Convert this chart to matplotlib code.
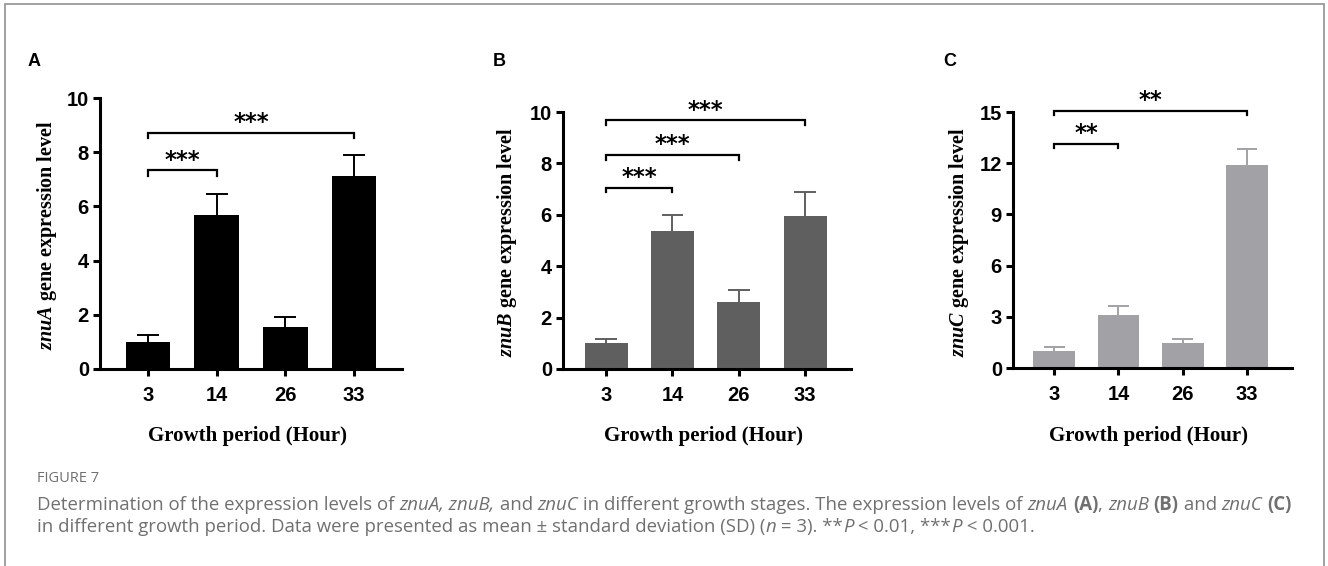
import numpy as np
import matplotlib
matplotlib.use("Agg")
import matplotlib.pyplot as plt
from matplotlib.patches import Rectangle

# ---------------------------------------------
# DATA
# ---------------------------------------------
hours = ["3", "14", "26", "33"]

znuA_mean = [1.00, 5.68, 1.54, 7.13]
znuA_sd = [0.27, 0.78, 0.37, 0.77]

znuB_mean = [1.01, 5.38, 2.59, 5.94]
znuB_sd = [0.15, 0.62, 0.50, 0.96]

znuC_mean = [1.01, 3.08, 1.46, 11.88]
znuC_sd = [0.20, 0.54, 0.22, 0.96]

# (from, to, height, stars)
znuA_sig = [(0, 1, 7.33, "***"), (0, 3, 8.71, "***")]
znuB_sig = [(0, 1, 7.06, "***"), (0, 2, 8.34, "***"), (0, 3, 9.68, "***")]
znuC_sig = [(0, 1, 13.15, "**"), (0, 3, 15.08, "**")]

# ---------------------------------------------
# SETUP
# ---------------------------------------------
W, H = 1328, 566
fig = plt.figure(figsize=(W / 100, H / 100), dpi=100)

plt.rcParams["mathtext.fontset"] = "custom"
plt.rcParams["mathtext.it"] = "Liberation Serif:italic:bold"
plt.rcParams["mathtext.rm"] = "Liberation Serif:bold"


def fx(px):
    return px / W


def fy(py):
    return 1 - py / H


panels = [
    dict(letter="A", gene="znuA", mean=znuA_mean, sd=znuA_sd, sig=znuA_sig,
         color="#000000", ymax=10, yticks=[0, 2, 4, 6, 8, 10],
         box=(100, 402, 98, 369), xlim=(-0.7, 3.7), ylab_x=47, letter_x=28),
    dict(letter="B", gene="znuB", mean=znuB_mean, sd=znuB_sd, sig=znuB_sig,
         color="#5f5f5f", ymax=10, yticks=[0, 2, 4, 6, 8, 10],
         box=(563, 851, 112, 369), xlim=(-0.65, 3.69), ylab_x=507, letter_x=493),
    dict(letter="C", gene="znuC", mean=znuC_mean, sd=znuC_sd, sig=znuC_sig,
         color="#a2a2a6", ymax=15, yticks=[0, 3, 6, 9, 12, 15],
         box=(1013, 1292, 112, 368), xlim=(-0.64, 3.7), ylab_x=959, letter_x=943),
]

x = np.arange(len(hours))
bar_w = 0.65

for p in panels:
    left, right, top, bottom = p["box"]
    ax = fig.add_axes([fx(left), fy(bottom), fx(right - left), (bottom - top) / H])

    mean = np.array(p["mean"])
    upper = mean + np.array(p["sd"])
    ax.bar(x, mean, width=bar_w, color=p["color"], zorder=2)
    # upper-only SD whiskers
    ax.vlines(x, mean, upper, color=p["color"], lw=1.4, zorder=1)
    ax.hlines(upper, x - bar_w / 4, x + bar_w / 4, color=p["color"],
              lw=1.4, zorder=1)

    ax.set_xlim(*p["xlim"])
    ax.set_ylim(0, p["ymax"])
    ax.set_xticks(x)
    ax.set_xticklabels(hours)
    ax.set_yticks(p["yticks"])

    for s in ["top", "right"]:
        ax.spines[s].set_visible(False)
    for s in ["left", "bottom"]:
        ax.spines[s].set_linewidth(2.2)
    ax.tick_params(axis="both", length=5, width=2.2, direction="out",
                   labelsize=14.5)
    ax.tick_params(axis="x", pad=7)
    ax.tick_params(axis="y", pad=3)
    for lab in ax.get_xticklabels() + ax.get_yticklabels():
        lab.set_fontfamily("Liberation Sans")
        lab.set_fontweight("bold")

    # significance brackets
    drop = p["ymax"] * 0.019
    for a, b, h, stars in p["sig"]:
        ax.plot([a, a, b, b], [h - drop, h, h, h - drop], color="black",
                lw=1.6, clip_on=False, solid_joinstyle="miter")
        ax.annotate(stars, xy=((a + b) / 2, h), xytext=(0, -1),
                    textcoords="offset points", ha="center", va="bottom",
                    fontsize=16.5, fontweight="bold", family="DejaVu Sans",
                    annotation_clip=False)

    fig.text(fx(p["letter_x"]), fy(62), p["letter"], fontsize=13,
             fontweight="bold", family="Liberation Sans", va="center")
    fig.text(fx(p["ylab_x"]), fy((top + bottom) / 2 + 2),
             "$" + p["gene"] + "$ gene expression level",
             rotation=90, ha="center", va="center", fontsize=14.5,
             family="Liberation Serif", fontweight="bold")
    fig.text(fx((left + right) / 2 - 4), fy(436), "Growth period (Hour)",
             ha="center", va="center", fontsize=15,
             family="Liberation Serif", fontweight="bold")

# caption
cap_color = "#707070"
fig.text(fx(37), fy(478), "FIGURE 7", fontsize=10.5, color=cap_color,
         family="Open Sans", va="center")

line1 = [("Determination of the expression levels of ", "normal", "normal"),
         ("znuA, znuB,", "italic", "normal"),
         (" and ", "normal", "normal"),
         ("znuC", "italic", "normal"),
         (" in different growth stages. The expression levels of ", "normal", "normal"),
         ("znuA", "italic", "normal"),
         (" ", "normal", "normal"),
         ("(A)", "normal", "bold"),
         (", ", "normal", "normal"),
         ("znuB", "italic", "normal"),
         (" ", "normal", "normal"),
         ("(B)", "normal", "bold"),
         (" and ", "normal", "normal"),
         ("znuC", "italic", "normal"),
         (" ", "normal", "normal"),
         ("(C)", "normal", "bold")]
line2 = [("in different growth period. Data were presented as mean \u00b1 standard deviation (SD) (", "normal", "normal"),
         ("n", "italic", "normal"),
         (" = 3). **", "normal", "normal"),
         ("P", "italic", "normal"),
         (" < 0.01, ***", "normal", "normal"),
         ("P", "italic", "normal"),
         (" < 0.001.", "normal", "normal")]

fig.canvas.draw()
renderer = fig.canvas.get_renderer()
for parts, ypx in [(line1, 505), (line2, 527)]:
    xpos = fx(37)
    for txt, style, weight in parts:
        t = fig.text(xpos, fy(ypx), txt, fontsize=13.4, color=cap_color,
                     family="Open Sans", style=style, weight=weight,
                     va="center")
        bb = t.get_window_extent(renderer=renderer)
        xpos += bb.width / W

# outer frame
fig.patches.append(Rectangle((fx(5), fy(575)), fx(1319), (575 - 4) / H,
                             transform=fig.transFigure, fill=False,
                             edgecolor="#9a9a9a", lw=1.3))

fig.savefig("out.png", dpi=100)
